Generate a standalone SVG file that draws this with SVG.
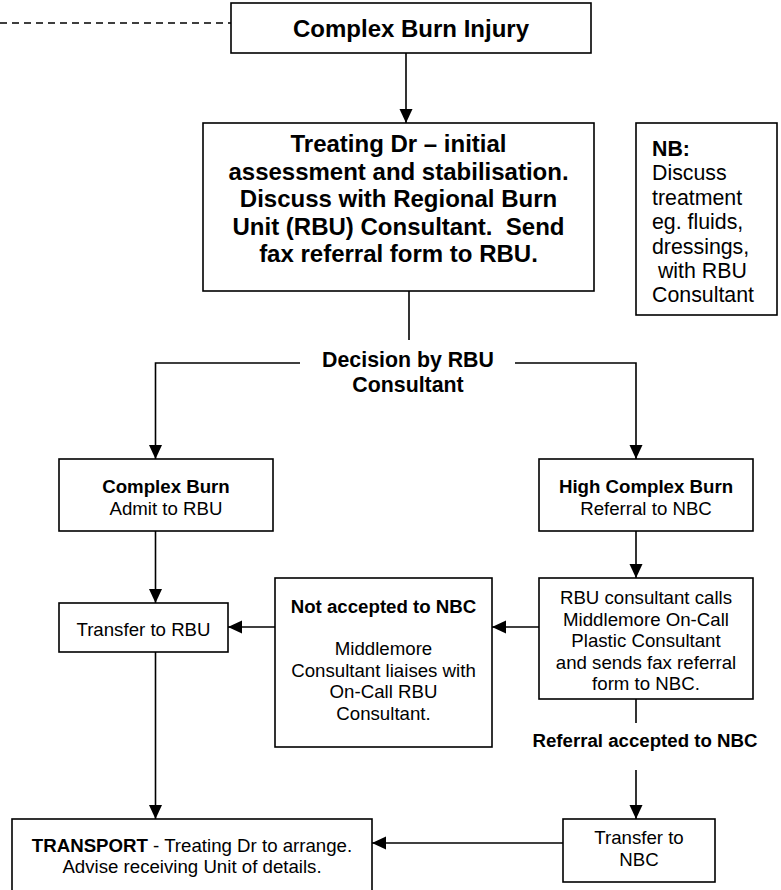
<svg xmlns="http://www.w3.org/2000/svg" width="781" height="890" viewBox="0 0 781 890">
<style>
  .box { fill: #ffffff; stroke: #000000; stroke-width: 1.6; }
  .ln { fill: none; stroke: #000000; stroke-width: 1.6; }
  .t { font-family: "Liberation Sans", Arial, sans-serif; font-size: 18.67px; fill: #000000; text-anchor: middle; }
  .b { font-weight: bold; }
  .big { font-size: 24px; font-weight: bold; }
  .mid { font-size: 21.33px; font-weight: bold; }
  .nb { font-size: 21.33px; text-anchor: start; }
</style>
<defs>
  <marker id="ah" markerUnits="userSpaceOnUse" markerWidth="15" markerHeight="14" refX="14" refY="6.5" orient="auto">
    <path d="M0,0 L14,6.5 L0,13 Z" fill="#000000"/>
  </marker>
</defs>

<g id="connectors">
  <line class="ln" x1="0" y1="23" x2="231" y2="23" stroke-dasharray="7 5"/>
  <line class="ln" x1="406" y1="53" x2="406" y2="123" marker-end="url(#ah)"/>
  <line class="ln" x1="409" y1="291" x2="409" y2="340"/>
  <polyline class="ln" points="300,363 155.5,363 155.5,459" marker-end="url(#ah)"/>
  <polyline class="ln" points="515,363 636,363 636,459" marker-end="url(#ah)"/>
  <line class="ln" x1="155.5" y1="531" x2="155.5" y2="603" marker-end="url(#ah)"/>
  <line class="ln" x1="636" y1="531" x2="636" y2="578" marker-end="url(#ah)"/>
  <line class="ln" x1="539" y1="627" x2="492" y2="627" marker-end="url(#ah)"/>
  <line class="ln" x1="275" y1="627" x2="228" y2="627" marker-end="url(#ah)"/>
  <line class="ln" x1="636" y1="699" x2="636" y2="723"/>
  <line class="ln" x1="636" y1="770" x2="636" y2="819" marker-end="url(#ah)"/>
  <line class="ln" x1="155.5" y1="652" x2="155.5" y2="819" marker-end="url(#ah)"/>
  <line class="ln" x1="563" y1="843" x2="372" y2="843" marker-end="url(#ah)"/>
</g>

<g id="complex-burn-injury">
  <rect class="box" x="231" y="3" width="360" height="50"/>
  <text class="t big" x="411" y="37">Complex Burn Injury</text>
</g>

<g id="treating-dr">
  <rect class="box" x="203" y="123" width="391" height="168"/>
  <text class="t big" x="398.5" y="152">Treating Dr – initial</text>
  <text class="t big" x="398.5" y="179.5">assessment and stabilisation.</text>
  <text class="t big" x="398.5" y="207">Discuss with Regional Burn</text>
  <text class="t big" x="398.5" y="234.5" xml:space="preserve">Unit (RBU) Consultant.  Send</text>
  <text class="t big" x="398.5" y="262">fax referral form to RBU.</text>
</g>

<g id="nb-note">
  <rect class="box" x="636" y="123" width="141" height="192"/>
  <text class="t nb b" x="652" y="156">NB:</text>
  <text class="t nb" x="652" y="180.4">Discuss</text>
  <text class="t nb" x="652" y="204.8">treatment</text>
  <text class="t nb" x="652" y="229.2">eg. fluids,</text>
  <text class="t nb" x="652" y="253.6">dressings,</text>
  <text class="t nb" x="652" y="278" xml:space="preserve"> with RBU</text>
  <text class="t nb" x="652" y="302.4">Consultant</text>
</g>

<g id="decision">
  <text class="t mid" x="408" y="367">Decision by RBU</text>
  <text class="t mid" x="408" y="392">Consultant</text>
</g>

<g id="complex-burn">
  <rect class="box" x="59" y="459" width="214" height="72"/>
  <text class="t b" x="166" y="492.5">Complex Burn</text>
  <text class="t" x="166" y="514.5">Admit to RBU</text>
</g>

<g id="high-complex-burn">
  <rect class="box" x="539" y="459" width="214" height="72"/>
  <text class="t b" x="646" y="492.5">High Complex Burn</text>
  <text class="t" x="646" y="514.5">Referral to NBC</text>
</g>

<g id="transfer-rbu">
  <rect class="box" x="59" y="603" width="169" height="49"/>
  <text class="t" x="143.5" y="636">Transfer to RBU</text>
</g>

<g id="rbu-calls">
  <rect class="box" x="539" y="578" width="214" height="121"/>
  <text class="t" x="646" y="604">RBU consultant calls</text>
  <text class="t" x="646" y="625.5">Middlemore On-Call</text>
  <text class="t" x="646" y="647">Plastic Consultant</text>
  <text class="t" x="646" y="668.5">and sends fax referral</text>
  <text class="t" x="646" y="690">form to NBC.</text>
</g>

<g id="not-accepted">
  <rect class="box" x="275" y="578" width="217" height="169"/>
  <text class="t b" x="383.5" y="612.7">Not accepted to NBC</text>
  <text class="t" x="383.5" y="655">Middlemore</text>
  <text class="t" x="383.5" y="676.5">Consultant liaises with</text>
  <text class="t" x="383.5" y="698">On-Call RBU</text>
  <text class="t" x="383.5" y="719.5">Consultant.</text>
</g>

<g id="referral-accepted">
  <text class="t b" x="645" y="746.7">Referral accepted to NBC</text>
</g>

<g id="transfer-nbc">
  <rect class="box" x="563" y="819" width="152" height="63"/>
  <text class="t" x="639" y="844">Transfer to</text>
  <text class="t" x="639" y="866">NBC</text>
</g>

<g id="transport">
  <rect class="box" x="12" y="819" width="360" height="80"/>
  <text class="t" x="192" y="852.3"><tspan font-weight="bold">TRANSPORT</tspan> - Treating Dr to arrange.</text>
  <text class="t" x="192" y="873.3">Advise receiving Unit of details.</text>
</g>
</svg>
